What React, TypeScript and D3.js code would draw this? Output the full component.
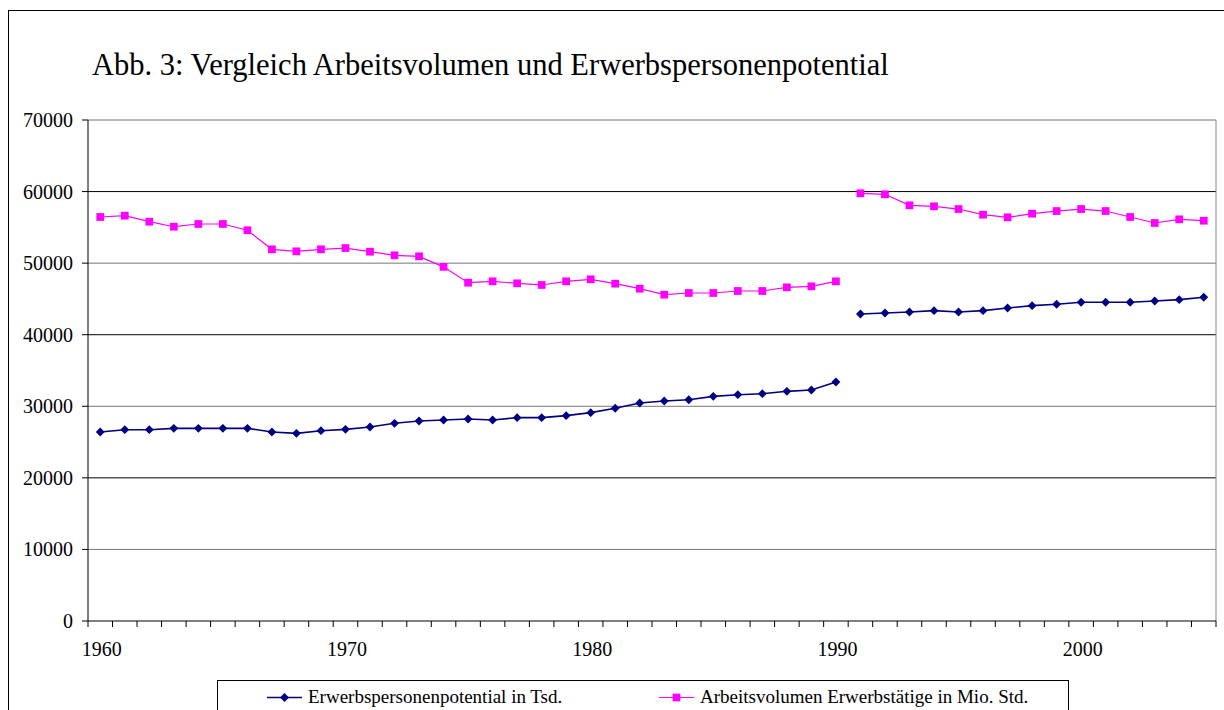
import React, { useEffect, useRef } from "react";
import * as d3 from "d3";

// years on the category axis
const years: number[] = d3.range(1960, 2006);
// the series break between 1990 and 1991 (West Germany -> unified Germany)
const breakAfter = 1990;

const erwerbspersonen: number[] = [
  26410, 26730, 26730, 26920, 26920, 26920, 26920, 26410, 26220, 26590,
  26780, 27110, 27620, 27940, 28080, 28220, 28080, 28410, 28410, 28690,
  29110, 29720, 30460, 30740, 30920, 31390, 31620, 31760, 32090, 32280,
  33390,
  42890, 43030, 43170, 43360, 43170, 43360, 43730, 44060, 44250, 44530,
  44530, 44530, 44710, 44900, 45230,
];

const arbeitsvolumen: number[] = [
  56450, 56630, 55790, 55090, 55470, 55470, 54590, 51930, 51650, 51930,
  52110, 51600, 51090, 50950, 49480, 47270, 47460, 47180, 46950, 47460,
  47740, 47130, 46430, 45590, 45830, 45830, 46110, 46110, 46620, 46760,
  47460,
  59760, 59620, 58080, 57940, 57560, 56770, 56400, 56910, 57280, 57560,
  57280, 56450, 55610, 56120, 55930,
];

const yTicks: number[] = [0, 10000, 20000, 30000, 40000, 50000, 60000, 70000];
const xLabels: number[] = [1960, 1970, 1980, 1990, 2000];

const titleText = "Abb. 3: Vergleich Arbeitsvolumen und Erwerbspersonenpotential";
const seriesNames = [
  "Erwerbspersonenpotential in Tsd.",
  "Arbeitsvolumen Erwerbstätige in Mio. Std.",
];

const App = () => {
  const svgRef = useRef<SVGSVGElement>(null);
  const width = 1224;
  const height = 710;

  useEffect(() => {
    const svg = d3.select(svgRef.current);
    svg.selectAll("*").remove();

    const font = "'Liberation Serif', 'Times New Roman', serif";
    const left = 88, right = 1216, top = 120, bottom = 621;

    const x = d3.scaleBand<number>().domain(years).range([left, right]);
    const y = d3.scaleLinear().domain([0, 70000]).range([bottom, top]);
    const cx = (yr: number) => (x(yr) as number) + x.bandwidth() / 2;

    // outer frame
    svg.append("rect")
      .attr("x", 8.5).attr("y", 10.5)
      .attr("width", 1230).attr("height", 720)
      .attr("fill", "white").attr("stroke", "#000").attr("stroke-width", 1);

    svg.append("text")
      .attr("x", 92).attr("y", 75)
      .style("font-family", font).style("font-size", "30.5px")
      .text(titleText);

    // gridlines
    svg.append("g")
      .selectAll("line")
      .data(yTicks.filter((d) => d > 0))
      .join("line")
      .attr("x1", left).attr("x2", right)
      .attr("y1", (d) => y(d)).attr("y2", (d) => y(d))
      .attr("stroke", (d) => ((d / 10000) % 2 === 0 ? "#000" : "#777"))
      .attr("stroke-width", 1);

    // right border of plot area
    svg.append("line")
      .attr("x1", right).attr("x2", right)
      .attr("y1", top).attr("y2", bottom)
      .attr("stroke", "#888");

    // y axis
    const yAxis = svg.append("g").attr("transform", `translate(${left},0)`);
    yAxis.append("line").attr("y1", top).attr("y2", bottom).attr("stroke", "#000");
    yAxis.selectAll("line.tick")
      .data(yTicks)
      .join("line")
      .attr("class", "tick")
      .attr("x1", -6).attr("x2", 0)
      .attr("y1", (d) => y(d)).attr("y2", (d) => y(d))
      .attr("stroke", "#000");
    yAxis.selectAll("text")
      .data(yTicks)
      .join("text")
      .attr("x", -15).attr("y", (d) => y(d)).attr("dy", "0.35em")
      .attr("text-anchor", "end")
      .style("font-family", font).style("font-size", "20px")
      .text((d) => d);

    // x axis
    const xAxis = svg.append("g").attr("transform", `translate(0,${bottom})`);
    xAxis.append("line").attr("x1", left).attr("x2", right).attr("stroke", "#000");
    xAxis.selectAll("line.tick")
      .data([...years.map((yr) => x(yr) as number), right])
      .join("line")
      .attr("class", "tick")
      .attr("x1", (d) => d).attr("x2", (d) => d)
      .attr("y1", 0).attr("y2", 6)
      .attr("stroke", "#000");
    xAxis.selectAll("text")
      .data(xLabels)
      .join("text")
      .attr("x", (d) => cx(d) + 1.5).attr("y", 35)
      .attr("text-anchor", "middle")
      .style("font-family", font).style("font-size", "20px")
      .text((d) => d);

    // series
    const line = d3.line<[number, number]>()
      .x((d) => cx(d[0]))
      .y((d) => y(d[1]));

    const diamond = d3.symbol().type(d3.symbolDiamond2).size(50);
    const square = d3.symbol().type(d3.symbolSquare).size(60);

    const series = [
      { values: erwerbspersonen, color: "#000080", sym: diamond, lw: 1.6 },
      { values: arbeitsvolumen, color: "#FF00FF", sym: square, lw: 1.2 },
    ];

    series.forEach((s) => {
      const pts: [number, number][] = years.map((yr, i) => [yr, s.values[i]]);
      const segs = [
        pts.filter((p) => p[0] <= breakAfter),
        pts.filter((p) => p[0] > breakAfter),
      ];
      const g = svg.append("g");
      segs.forEach((seg) => {
        g.append("path")
          .attr("d", line(seg))
          .attr("fill", "none")
          .attr("stroke", s.color)
          .attr("stroke-width", s.lw);
      });
      g.selectAll("path.m")
        .data(pts)
        .join("path")
        .attr("class", "m")
        .attr("transform", (d) => `translate(${cx(d[0])},${y(d[1])})`)
        .attr("d", s.sym() as string)
        .attr("fill", s.color);
    });

    // legend
    const lg = svg.append("g");
    lg.append("rect")
      .attr("x", 217.5).attr("y", 680.5)
      .attr("width", 851).attr("height", 60)
      .attr("fill", "white").attr("stroke", "#000");
    const items = [
      { x: 267, name: seriesNames[0], s: series[0] },
      { x: 659, name: seriesNames[1], s: series[1] },
    ];
    items.forEach((it) => {
      const yy = 697.5;
      lg.append("line")
        .attr("x1", it.x).attr("x2", it.x + 35)
        .attr("y1", yy).attr("y2", yy)
        .attr("stroke", it.s.color).attr("stroke-width", it.s.lw);
      lg.append("path")
        .attr("transform", `translate(${it.x + 17.5},${yy})`)
        .attr("d", it.s.sym() as string)
        .attr("fill", it.s.color);
      lg.append("text")
        .attr("x", it.x + 41).attr("y", 703)
        .style("font-family", font).style("font-size", "19px")
        .text(it.name);
    });
  }, []);

  return (
    <svg
      ref={svgRef}
      width={width}
      height={height}
      viewBox={`0 0 ${width} ${height}`}
      style={{ position: "absolute", left: 0, top: 0, background: "white" }}
    ></svg>
  );
};

export default App;
